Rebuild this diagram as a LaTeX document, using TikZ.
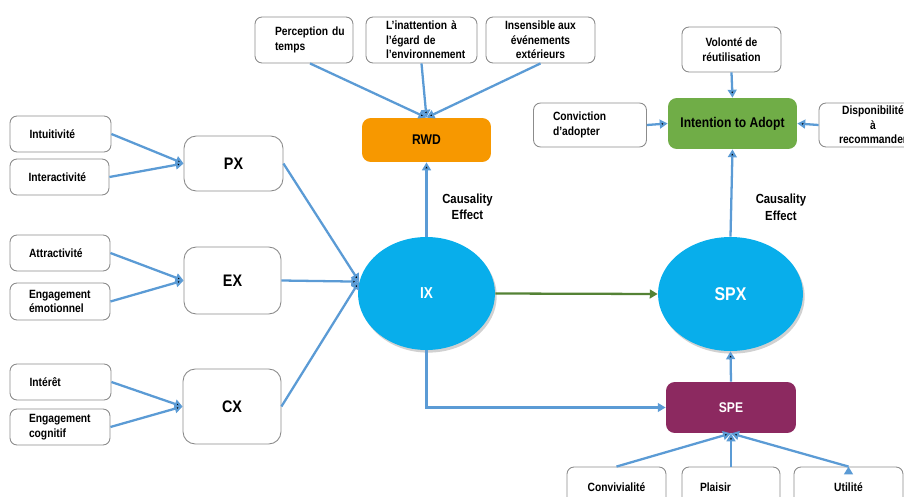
\documentclass[tikz,border=0pt]{standalone}
\usepackage{fontspec}
\setmainfont{Liberation Sans}[FakeStretch=0.86]
\usetikzlibrary{arrows.meta,shapes.geometric,positioning,calc,shadows}
\definecolor{linkblue}{RGB}{91,155,213}
\definecolor{boxgray}{RGB}{140,140,140}
\definecolor{rwdorange}{RGB}{247,152,0}
\definecolor{adoptgreen}{RGB}{112,173,71}
\definecolor{spepurple}{RGB}{140,41,96}
\definecolor{ballblue}{RGB}{8,174,235}
\definecolor{flowgreen}{RGB}{84,130,53}
\tikzset{
  >={Triangle[length=4.5pt,width=5pt]},
  item/.style={draw=boxgray, fill=white, rounded corners=4pt, line width=0.5pt,
    font=\fontsize{6.8}{8.3}\selectfont\bfseries, inner sep=1pt},
  factor/.style={draw=boxgray, fill=white, rounded corners=7pt, line width=0.5pt,
    font=\fontsize{9.5}{11}\selectfont\bfseries},
  block/.style={rounded corners=5pt, font=\fontsize{8}{10}\selectfont\bfseries},
  ball/.style={ellipse, fill=ballblue, text=white, inner sep=0pt,
    drop shadow={shadow xshift=1pt, shadow yshift=-1.5pt, opacity=0.3, fill=black!60}},
  link/.style={->, draw=linkblue, line width=1.3pt},
}

\begin{document}
\begin{tikzpicture}[x=0.02cm, y=-0.02cm]
\useasboundingbox (0,0) rectangle (904,497);

% left items and their factors
\node[item, minimum width=2.02cm, minimum height=0.72cm, text width=1.24cm, align=left] (intuit) at (60.5,134) {Intuitivité};
\node[item, minimum width=1.98cm, minimum height=0.72cm, text width=1.24cm, align=left] (interact) at (59.5,177) {Interactivité};
\node[item, minimum width=2cm, minimum height=0.72cm, text width=1.24cm, align=left] (attract) at (60,253) {Attractivité};
\node[item, minimum width=2cm, minimum height=0.74cm, text width=1.24cm, align=left] (engemo) at (60,301.5) {Engagement\\émotionnel};
\node[item, minimum width=2.02cm, minimum height=0.72cm, text width=1.24cm, align=left] (interet) at (60.5,382) {Intérêt};
\node[item, minimum width=2cm, minimum height=0.72cm, text width=1.24cm, align=left] (engcog) at (60,427) {Engagement\\cognitif};

\node[factor, minimum width=1.98cm, minimum height=1.1cm] (px) at (233.5,163.5) {PX};
\node[factor, minimum width=1.94cm, minimum height=1.34cm] (ex) at (232.5,280.5) {EX};
\node[factor, minimum width=1.96cm, minimum height=1.5cm] (cx) at (232,406.5) {CX};

% experience balls
\node[ball, minimum width=2.74cm, minimum height=2.26cm, font=\fontsize{9}{11}\selectfont\bfseries] (ix) at (426.5,293.5) {IX};
\node[ball, minimum width=2.9cm, minimum height=2.28cm, font=\fontsize{10.5}{12}\selectfont\bfseries] (spx) at (730.5,294) {SPX};

% RWD and its items
\node[block, fill=rwdorange, minimum width=2.58cm, minimum height=0.88cm] (rwd) at (426.5,140) {RWD};
\node[item, minimum width=1.96cm, minimum height=0.92cm, text width=1.16cm, align=left] (perc) at (304,40) {Perception~du\\temps};
\node[item, minimum width=2.22cm, minimum height=0.92cm, text width=1.42cm, align=left] (inatt) at (421.5,40) {L'inattention~à\\l'égard de\\l'environnement};
\node[item, minimum width=2.18cm, minimum height=0.92cm, align=center] (insens) at (540.5,40) {Insensible aux\\événements\\extérieurs};

% adoption
\node[block, fill=adoptgreen, minimum width=2.58cm, minimum height=1.02cm] (intent) at (732.5,123.5) {Intention to Adopt};
\node[item, minimum width=1.98cm, minimum height=0.9cm, align=center] (volonte) at (731.5,49.5) {Volonté de\\réutilisation};
\node[item, minimum width=2.26cm, minimum height=0.88cm, text width=1.48cm, align=left] (conv) at (590,125) {Conviction\\d'adopter};
\node[item, minimum width=2.16cm, minimum height=0.88cm, align=center] (dispo) at (873,125) {Disponibilité\\à\\recommander};

% SPE and its items
\node[block, fill=spepurple, text=white, minimum width=2.6cm, minimum height=1.02cm] (spe) at (731,407.5) {SPE};
\node[item, minimum width=1.98cm, minimum height=0.8cm, align=center] (conviv) at (616.5,487) {Convivialité};
\node[item, minimum width=1.96cm, minimum height=0.8cm, text width=1.24cm, align=left] (plaisir) at (731,487) {Plaisir};
\node[item, minimum width=2.18cm, minimum height=0.8cm, align=center] (utilite) at (848.5,487) {Utilité};

\path[link]
(intuit.east) edge (px.west)
(interact.east) edge (px.west)
(attract.east) edge (ex.west)
(engemo.east) edge (ex.west)
(interet.east) edge (cx.west)
(engcog.east) edge (cx.west)
(px.east) edge (ix.170)
(ex.east) edge (ix.170)
(cx.east) edge (ix.170)
([xshift=0.12cm]perc.south) edge (rwd.north)
(inatt.south) edge (rwd.north)
(insens.south) edge (rwd.north)
(ix.north) edge node[pos=0.4, right=5pt, align=center, text=black, font=\fontsize{7.5}{9.5}\selectfont\bfseries]{Causality\\Effect} (rwd.south)
(spx.north) edge node[pos=0.34, right=10pt, align=center, text=black, font=\fontsize{7.5}{9.5}\selectfont\bfseries]{Causality\\Effect} (intent.south)
(volonte.south) edge (intent.north)
(conv.east) edge (intent.west)
(dispo.west) edge (intent.east)
(spe.north) edge (spx.south)
(conviv.north) edge (spe.south)
(plaisir.north) edge (spe.south)
(utilite.north) edge (spe.south);

\draw[link] (ix.south) |- (spe.west);
\draw[->, draw=flowgreen, line width=1.3pt] (ix.east) -- (spx.west);
\end{tikzpicture}
\end{document}
